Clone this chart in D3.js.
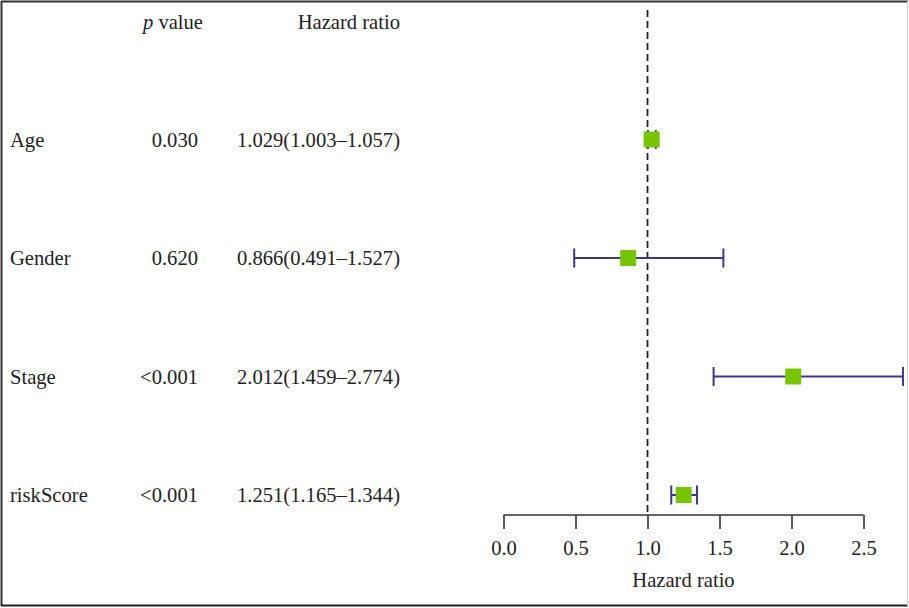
<!DOCTYPE html>
<html>
<head>
<meta charset="utf-8">
<script src="https://cdn.jsdelivr.net/npm/d3@7"></script>
<style>
  html, body { margin: 0; padding: 0; background: #fff; }
  svg { display: block; }
  text { font-family: "Liberation Serif", "DejaVu Serif", serif; font-size: 20.6px; fill: #222; }
</style>
</head>
<body>
<svg id="chart" width="909" height="608"></svg>
<script>
// Multivariate Cox regression results
const variables = ["Age", "Gender", "Stage", "riskScore"];
const pValues = ["0.030", "0.620", "<0.001", "<0.001"];
const hazardRatio = [1.029, 0.866, 2.012, 1.251];
const ciLower = [1.003, 0.491, 1.459, 1.165];
const ciUpper = [1.057, 1.527, 2.774, 1.344];
const axisTicks = [0.0, 0.5, 1.0, 1.5, 2.0, 2.5];

const svg = d3.select("#chart");

// frame
svg.append("line").attr("x1", 1).attr("x2", 908).attr("y1", 1.5).attr("y2", 1.5)
  .attr("stroke", "#333").attr("stroke-width", 2);
svg.append("line").attr("x1", 1.5).attr("x2", 1.5).attr("y1", 1).attr("y2", 606)
  .attr("stroke", "#333").attr("stroke-width", 2);
svg.append("line").attr("x1", 1).attr("x2", 908).attr("y1", 605.5).attr("y2", 605.5)
  .attr("stroke", "#222").attr("stroke-width", 2);
svg.append("line").attr("x1", 907.5).attr("x2", 907.5).attr("y1", 1).attr("y2", 606)
  .attr("stroke", "#ccc").attr("stroke-width", 1);

// scales
const x = d3.scaleLinear().domain([0, 2.5]).range([503.5, 863.5]);
const y = d3.scalePoint().domain(["header", ...variables]).range([21, 495]);

const rows = variables.map((v, i) => ({
  name: v, p: pValues[i], hr: hazardRatio[i], lo: ciLower[i], hi: ciUpper[i]
}));

// header
const header = svg.append("g");
const pHead = header.append("text").attr("x", 203).attr("y", y("header") + 8).attr("text-anchor", "end");
pHead.append("tspan").attr("font-style", "italic").text("p");
pHead.append("tspan").text(" value");
header.append("text").attr("x", 400).attr("y", y("header") + 8).attr("text-anchor", "end").text("Hazard ratio");

// table text
const table = svg.append("g");
table.selectAll("text.name").data(rows).join("text").attr("class", "name")
  .attr("x", 10).attr("y", d => y(d.name) + 7).text(d => d.name);
table.selectAll("text.p").data(rows).join("text").attr("class", "p")
  .attr("x", 198).attr("y", d => y(d.name) + 7).attr("text-anchor", "end").text(d => d.p);
table.selectAll("text.hr").data(rows).join("text").attr("class", "hr")
  .attr("x", 400).attr("y", d => y(d.name) + 7).attr("text-anchor", "end")
  .text(d => `${d.hr.toFixed(3)}(${d.lo.toFixed(3)}\u2013${d.hi.toFixed(3)})`);

// reference line at HR = 1
svg.append("line").attr("x1", x(1)).attr("x2", x(1)).attr("y1", 10).attr("y2", 515)
  .attr("stroke", "#222").attr("stroke-width", 1.8).attr("stroke-dasharray", "7,4");

// error bars
const bars = svg.append("g").attr("stroke", "#3b3791").attr("stroke-width", 2);
bars.selectAll("line.ci").data(rows).join("line").attr("class", "ci")
  .attr("x1", d => x(d.lo)).attr("x2", d => x(d.hi))
  .attr("y1", d => y(d.name)).attr("y2", d => y(d.name));
bars.selectAll("line.capL").data(rows).join("line").attr("class", "capL")
  .attr("x1", d => x(d.lo)).attr("x2", d => x(d.lo))
  .attr("y1", d => y(d.name) - 9.5).attr("y2", d => y(d.name) + 9.5);
bars.selectAll("line.capR").data(rows).join("line").attr("class", "capR")
  .attr("x1", d => x(d.hi)).attr("x2", d => x(d.hi))
  .attr("y1", d => y(d.name) - 9.5).attr("y2", d => y(d.name) + 9.5);

// point estimates
const sq = 16;
svg.append("g").selectAll("rect").data(rows).join("rect")
  .attr("x", d => x(d.hr) - sq / 2).attr("y", d => y(d.name) - sq / 2)
  .attr("width", sq).attr("height", sq).attr("fill", "#76c500");

// x axis
const axis = d3.axisBottom(x).tickValues(axisTicks).tickFormat(d3.format(".1f"))
  .tickSize(14).tickPadding(11);
const gAxis = svg.append("g").attr("transform", "translate(0,515)").call(axis);
gAxis.select(".domain").attr("stroke", "#333").attr("stroke-width", 1.6)
  .attr("d", `M${x(0)},0H${x(2.5)}`);
gAxis.selectAll(".tick line").attr("stroke", "#333").attr("stroke-width", 1.6);
gAxis.selectAll(".tick text").attr("font-family", "Liberation Serif, serif")
  .attr("font-size", 20.6).attr("fill", "#222");

svg.append("text").attr("x", x(1.25)).attr("y", 587).attr("text-anchor", "middle").text("Hazard ratio");
</script>
</body>
</html>
